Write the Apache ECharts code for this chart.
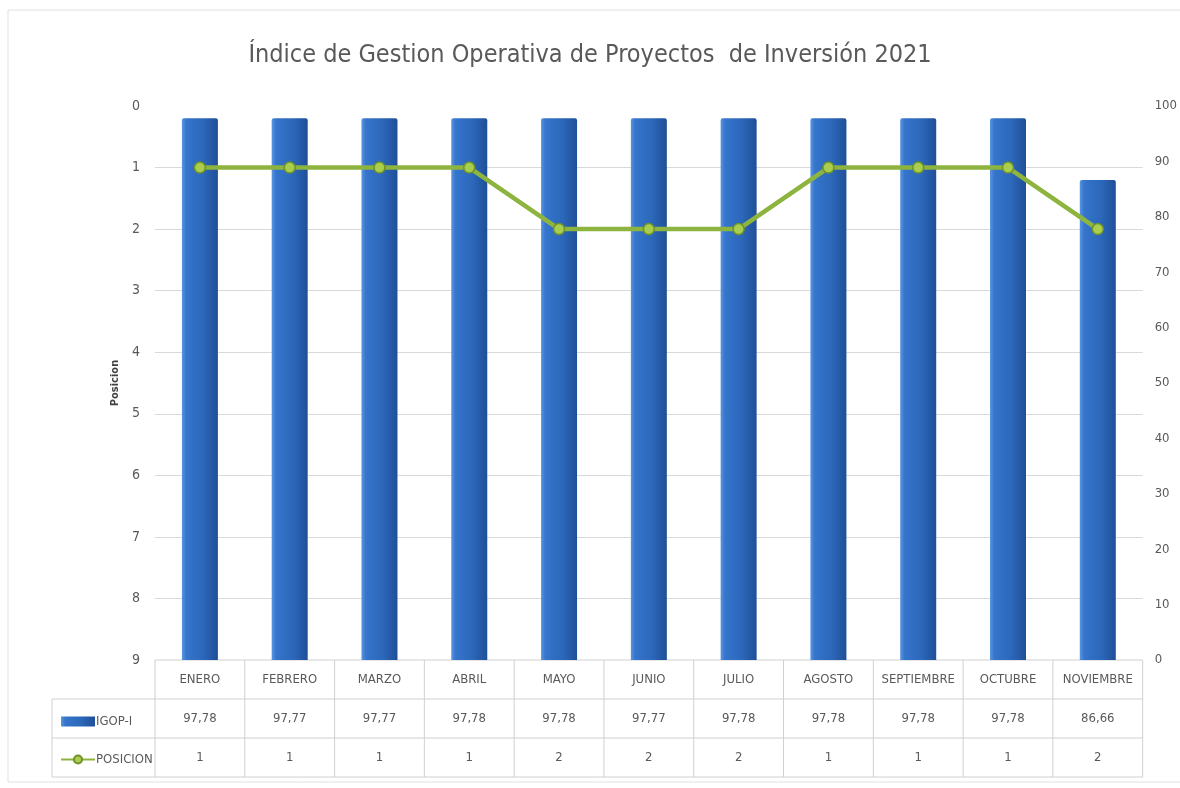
<!DOCTYPE html>
<html>
<head>
<meta charset="utf-8">
<script src="https://cdn.jsdelivr.net/npm/echarts@6/dist/echarts.min.js"></script>
<style>
  html, body { margin: 0; padding: 0; background: #fff; }
  #chart { width: 1180px; height: 788px; }
</style>
</head>
<body>
<div id="chart"></div>
<script>
// datos
const meses = ['ENERO', 'FEBRERO', 'MARZO', 'ABRIL', 'MAYO', 'JUNIO', 'JULIO', 'AGOSTO', 'SEPTIEMBRE', 'OCTUBRE', 'NOVIEMBRE']
const igop = [97.78, 97.77, 97.77, 97.78, 97.78, 97.77, 97.78, 97.78, 97.78, 97.78, 86.66]
const posicion = [1, 1, 1, 1, 2, 2, 2, 1, 1, 1, 2]
const posTicks = [0, 9, 1]      // min, max, interval
const igopTicks = [0, 100, 10]

const FONT = '"Liberation Sans Narrow", "DejaVu Sans Condensed", sans-serif'
const GREY = '#595959'
const ROW = 39

const fmt = v => String(v.toFixed(2)).replace('.', ',')

const chart = echarts.init(document.getElementById('chart'))

const option = {
  backgroundColor: '#fff',
  textStyle: { fontFamily: FONT },
  title: {
    text: 'Índice de Gestion Operativa de Proyectos  de Inversión 2021',
    left: 'center',
    top: 38,
    textStyle: { fontFamily: FONT, fontSize: 25, fontWeight: 'normal', color: GREY }
  },
  legend: {
    orient: 'vertical',
    left: 55,
    top: 710,
    itemGap: 25,
    itemWidth: 34,
    itemHeight: 10,
    textStyle: { fontFamily: FONT, fontSize: 13, color: GREY, padding: [0, 0, 0, -4] },
    data: [
      { name: 'IGOP-I', icon: 'rect' },
      { name: 'POSICION' }
    ]
  },
  grid: { left: 155, right: 35, top: 106, bottom: 128 },
  xAxis: {
    type: 'category',
    data: meses,
    axisTick: { show: false },
    axisLine: { show: false },
    axisLabel: {
      margin: 0,
      interval: 0,
      formatter: (val, i) => `{m|${val}}\n{v|${fmt(igop[i])}}\n{v|${posicion[i]}}`,
      rich: {
        m: { fontFamily: FONT, fontSize: 13, color: GREY, lineHeight: ROW },
        v: { fontFamily: FONT, fontSize: 13, color: GREY, lineHeight: ROW }
      }
    }
  },
  yAxis: [
    {
      type: 'value',
      inverse: true,
      min: posTicks[0],
      max: posTicks[1],
      interval: posTicks[2],
      name: 'Posicion',
      nameLocation: 'middle',
      nameGap: 34,
      nameTextStyle: { fontFamily: FONT, fontSize: 11, fontWeight: 'bold', color: '#404040' },
      axisLine: { show: false },
      axisTick: { show: false },
      axisLabel: { fontFamily: FONT, fontSize: 14, color: GREY, margin: 15 },
      splitLine: {
        lineStyle: { color: '#d9d9d9' },
        showMinLine: false,
        showMaxLine: false
      }
    },
    {
      type: 'value',
      min: igopTicks[0],
      max: igopTicks[1],
      interval: igopTicks[2],
      position: 'right',
      axisLine: { show: false },
      axisTick: { show: false },
      axisLabel: { fontFamily: FONT, fontSize: 13, color: GREY, margin: 12 },
      splitLine: { show: false }
    }
  ],
  series: [
    {
      name: 'IGOP-I',
      type: 'bar',
      yAxisIndex: 1,
      barWidth: 36,
      data: igop,
      itemStyle: {
        color: new echarts.graphic.LinearGradient(0, 0, 1, 0, [
          { offset: 0, color: '#5a95e0' },
          { offset: 0.12, color: '#3575cc' },
          { offset: 0.6, color: '#2c67b9' },
          { offset: 1, color: '#1f4f98' }
        ]),
        borderRadius: [2, 2, 0, 0]
      },
      z: 2
    },
    {
      name: 'POSICION',
      type: 'line',
      yAxisIndex: 0,
      data: posicion,
      symbol: 'circle',
      symbolSize: 11,
      lineStyle: { color: '#8db43e', width: 4.5 },
      itemStyle: { color: '#a9cd4c', borderColor: '#6f9229', borderWidth: 1.5 },
      z: 3
    }
  ]
}

chart.setOption(option)

// tabla de datos bajo el eje: bordes calculados desde el grid
function drawTable() {
  const rect = chart.getModel().getComponent('grid').coordinateSystem.getRect()
  const band = rect.width / meses.length
  const top = rect.y + rect.height
  const left = 52
  const right = rect.x + rect.width
  const lineStyle = { stroke: '#d0d0d0', lineWidth: 1 }
  const els = []
  // horizontales
  els.push({ type: 'line', shape: { x1: rect.x, y1: top, x2: right, y2: top }, style: lineStyle })
  for (let r = 1; r <= 3; r++) {
    const y = top + r * ROW
    els.push({ type: 'line', shape: { x1: left, y1: y, x2: right, y2: y }, style: lineStyle })
  }
  // verticales
  for (let k = 0; k <= meses.length; k++) {
    const x = rect.x + k * band
    els.push({ type: 'line', shape: { x1: x, y1: top, x2: x, y2: top + 3 * ROW }, style: lineStyle })
  }
  els.push({ type: 'line', shape: { x1: left, y1: top + ROW, x2: left, y2: top + 3 * ROW }, style: lineStyle })
  // marco exterior (abierto por la derecha)
  els.push({
    type: 'rect',
    shape: { x: 8, y: 10, width: 1300, height: 772 },
    style: { fill: 'none', stroke: '#e0e0e0', lineWidth: 1 },
    silent: true
  })
  chart.setOption({ graphic: els.map(e => Object.assign({ silent: true, z: 0 }, e)) })
}
drawTable()
</script>
</body>
</html>
